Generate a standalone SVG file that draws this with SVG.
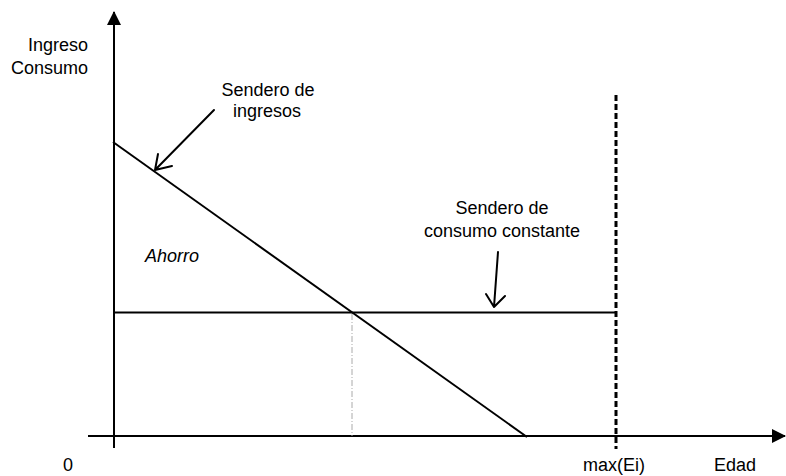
<svg xmlns="http://www.w3.org/2000/svg" width="786" height="476" viewBox="0 0 786 476">
  <style>
    text { font-family: "Liberation Sans", Arial, sans-serif; font-size: 18px; fill: #000; }
    .ax { stroke: #000; stroke-width: 2; fill: none; }
    .ln { stroke: #000; stroke-width: 2; fill: none; }
    .ptr { stroke: #000; stroke-width: 2; fill: none; stroke-linecap: round; stroke-linejoin: round; }
  </style>
  <defs>
    <marker id="tri" viewBox="0 0 14 14" refX="13" refY="7" markerWidth="14" markerHeight="14" markerUnits="userSpaceOnUse" orient="auto">
      <path d="M0,0 L14,7 L0,14 Z" fill="#000"/>
    </marker>
  </defs>
  <rect width="786" height="476" fill="#fff"/>

  <g id="axes">
    <line class="ax" x1="114" y1="448" x2="114" y2="12" marker-end="url(#tri)"/>
    <line class="ax" x1="88" y1="436" x2="785" y2="436" marker-end="url(#tri)"/>
  </g>

  <g id="connectors">
    <line id="ingreso-line" class="ln" x1="113" y1="142" x2="527" y2="437"/>
    <line id="consumo-line" class="ln" x1="114" y1="312.5" x2="616" y2="312.5"/>
    <line id="guide" x1="352" y1="314" x2="352" y2="436" stroke="#aaa" stroke-width="1" stroke-dasharray="6,2,1,2"/>
    <line id="max-line" x1="616" y1="95" x2="616" y2="449" stroke="#000" stroke-width="3" stroke-dasharray="6,3"/>
    <path class="ptr" d="M214,110 L155,170 M158,154 L155,170 L172,166"/>
    <path class="ptr" d="M498,252 L494,307 M486,294 L494,307 L505,296"/>
  </g>

  <g id="label-y">
    <text x="88" y="51" text-anchor="end">Ingreso</text>
    <text x="88" y="74" text-anchor="end">Consumo</text>
  </g>
  <g id="label-ingresos">
    <text x="268" y="96" text-anchor="middle">Sendero de</text>
    <text x="267" y="117" text-anchor="middle">ingresos</text>
  </g>
  <g id="label-consumo">
    <text x="502" y="214" text-anchor="middle">Sendero de</text>
    <text x="502" y="237" text-anchor="middle">consumo constante</text>
  </g>
  <g id="label-ahorro">
    <text x="145" y="262" font-style="italic">Ahorro</text>
  </g>
  <g id="label-x">
    <text x="68" y="471" text-anchor="middle">0</text>
    <text x="614" y="471" text-anchor="middle">max(Ei)</text>
    <text x="735" y="471" text-anchor="middle">Edad</text>
  </g>
</svg>
